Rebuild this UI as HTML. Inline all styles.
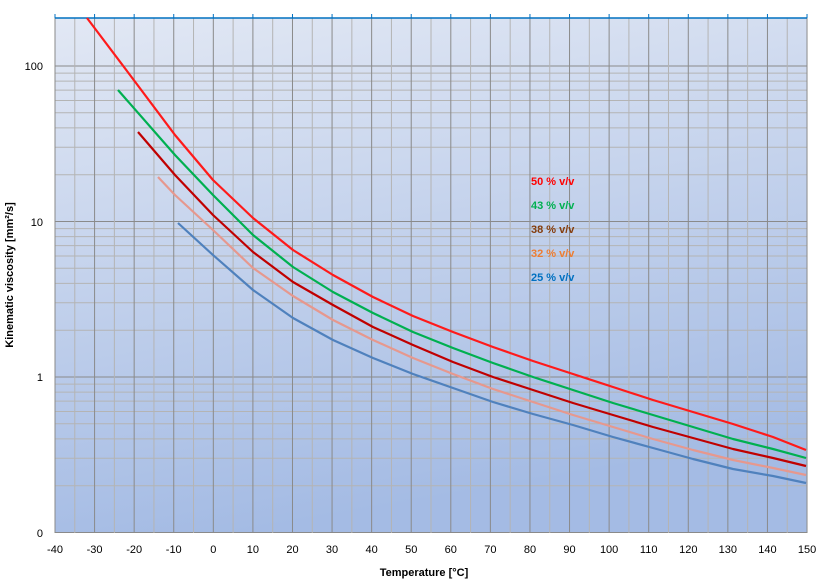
<!DOCTYPE html>
<html><head><style>body{margin:0;background:#fff}svg{display:block;font-family:"Liberation Sans",sans-serif}</style></head>
<body>
<svg width="818" height="583" xmlns="http://www.w3.org/2000/svg">
<defs><linearGradient id="g" x1="0" y1="0" x2="0.25" y2="1"><stop offset="0" stop-color="#e2e8f4"/><stop offset="1" stop-color="#a4bbe4"/></linearGradient></defs>
<rect x="55" y="18" width="752" height="515" fill="url(#g)"/>
<g id="grid"></g>
<g fill="none" stroke-width="2.2" stroke-linejoin="round">
<polyline stroke="#ff1a1a" points="87,18 130,75 175,135 213,180 253,218 293,250 333,275 373,297 413,316 453,332 493,347 533,361 573,374 613,387 653,400 693,412 733,424 773,437 806,450"/>
<polyline stroke="#00b050" points="118,90 175,155 213,195 253,235 293,267 333,292 373,313 413,332 453,348 493,363 533,377 573,390 613,403 653,415 693,427 733,439 773,449 806,458"/>
<polyline stroke="#c00000" points="138,132 175,175 213,215 253,252 293,282 333,305 373,327 413,345 453,362 493,377 533,390 573,403 613,415 653,427 693,438 733,449 773,458 806,466"/>
<polyline stroke="#e6988e" points="158,177 175,195 213,230 253,268 293,296 333,320 373,340 413,358 453,374 493,389 533,402 573,415 613,427 653,439 693,450 733,460 773,468 806,475"/>
<polyline stroke="#4f81bd" points="178,223 213,255 253,290 293,318 333,340 373,358 413,374 453,388 493,402 533,414 573,425 613,437 653,448 693,459 733,469 773,476 806,483"/>
</g>
<g font-size="11" font-weight="bold">
<text x="531" y="185" fill="#ff0000">50 % v/v</text>
<text x="531" y="209" fill="#00b050">43 % v/v</text>
<text x="531" y="233" fill="#843c0c">38 % v/v</text>
<text x="531" y="257" fill="#ed7d31">32 % v/v</text>
<text x="531" y="281" fill="#0070c0">25 % v/v</text>
</g>
<g font-size="11" text-anchor="end">
<text x="43" y="70">100</text><text x="43" y="226">10</text><text x="43" y="381">1</text><text x="43" y="537">0</text>
</g>
<g id="xl" font-size="11" text-anchor="middle"></g>
<text x="424" y="576" font-size="11" font-weight="bold" text-anchor="middle">Temperature [°C]</text>
<text transform="translate(13,275) rotate(-90)" font-size="11" font-weight="bold" text-anchor="middle">Kinematic viscosity  [mm²/s]</text>
<script>
var ns="http://www.w3.org/2000/svg",g=document.getElementById('grid'),xl=document.getElementById('xl');
function L(x1,y1,x2,y2,c,w){var l=document.createElementNS(ns,'line');l.setAttribute('x1',x1);l.setAttribute('y1',y1);l.setAttribute('x2',x2);l.setAttribute('y2',y2);l.setAttribute('stroke',c);l.setAttribute('stroke-width',w||1);g.appendChild(l);}
for(var d=0;d<3;d++)for(var m=1;m<10;m++){var y=532.5-(d+Math.log10(m))*155.5;if(y<18)continue;L(55,y,807,y,m==1?'#8a8a8a':'#b4b4b4');}
L(55,66,807,66,'#8a8a8a');
for(var k=0;k<=38;k++){var x=55+k*19.79;L(x,18,x,533,k%2?'#b4b4b4':'#8a8a8a');
 if(k%2==0){L(x,14,x,18,'#0070c0');var t=document.createElementNS(ns,'text');t.setAttribute('x',x);t.setAttribute('y',553);t.textContent=-40+k*5;xl.appendChild(t);}}
L(55,18,807,18,'#0070c0',1.5);
</script>
</svg>
</body></html>
